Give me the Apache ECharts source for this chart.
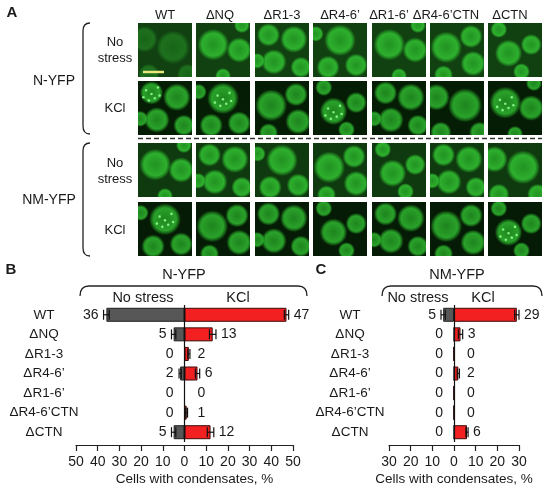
<!DOCTYPE html>
<html><head><meta charset="utf-8">
<script src="https://cdn.jsdelivr.net/npm/echarts@6/dist/echarts.min.js"></script>
<style>html,body{margin:0;padding:0;background:#fff}#c{width:550px;height:493px}</style>
</head><body><div id="c"></div>
<script>
// ---------- data ----------
const categories = ['WT', '\u0394NQ', '\u0394R1-3', '\u0394R4-6\u2019', '\u0394R1-6\u2019', '\u0394R4-6\u2019CTN', '\u0394CTN'];
const nYfpNoStress    = [36, 5, 0, 2, 0, 0, 5];
const nYfpNoStressErr = [1.3, 1, 0, 0.5, 0, 0, 1];
const nYfpKcl         = [47, 13, 2, 6, 0, 1, 12];
const nYfpKclErr      = [1, 1.5, 0.5, 1, 0, 0.4, 1.5];
const nmYfpNoStress    = [5, 0, 0, 0, 0, 0, 0];
const nmYfpNoStressErr = [1, 0, 0, 0, 0, 0, 0];
const nmYfpKcl         = [29, 3, 0, 2, 0, 0, 6];
const nmYfpKclErr      = [1, 1, 0, 0.5, 0, 0, 0.5];
const nTicks = [-50, 50, 10];
const nmTicks = [-30, 30, 10];
const micrographCols = ['WT', '\u0394NQ', '\u0394R1-3', '\u0394R4-6\u2019', '\u0394R1-6\u2019', '\u0394R4-6\u2019CTN', '\u0394CTN'];

const FONT = '"Liberation Sans", Arial, sans-serif';
const TXT = '#1a1a1a';

// ---------- panel A decoration (micrographs approximated) ----------
const tileX = [138, 196, 255, 313, 372, 430, 488];
const tileY = [23, 81, 143, 202];
const tileS = 54;
const headerX = [165, 220, 282, 340, 389, 446, 510];
const patterns = {
  A: [[0.65, 0.45, 0.32], [0.12, 0.3, 0.25], [0.2, 0.95, 0.2], [0.92, 0.95, 0.2]],
  B: [[0.32, 0.4, 0.3], [0.8, 0.5, 0.24], [0.5, 0.98, 0.15], [0.85, 0.04, 0.15]],
  C: [[0.25, 0.22, 0.22], [0.72, 0.3, 0.26], [0.35, 0.72, 0.24], [0.85, 0.82, 0.2], [0.04, 0.7, 0.15]],
  D: [[0.5, 0.32, 0.3], [0.28, 0.82, 0.22], [0.8, 0.78, 0.22], [0.05, 0.2, 0.15]],
  E: [[0.3, 0.45, 0.3], [0.76, 0.25, 0.22], [0.8, 0.75, 0.24], [0.25, 0.96, 0.18]],
  F: [[0.38, 0.56, 0.26], [0.8, 0.4, 0.2], [0.62, 0.9, 0.16], [0.2, 0.12, 0.16]]
};
const tileSpec = [
  ['A', 'B', 'C', 'D', 'B', 'E', 'F'],
  ['C', 'D', 'E', 'F', 'C', 'A', 'B'],
  ['B', 'C', 'D', 'E', 'F', 'C', 'A'],
  ['D', 'E', 'C', 'F', 'C', 'E', 'F']
];
const rowBg = ['#114011', '#051d05', '#0f3a0f', '#051b05'];
const dotted = {'1-0': 1, '1-1': 1, '1-3': 1, '1-6': 1, '3-0': 1, '3-6': 1};

function cellGrad(cx, cy, r, a) {
  return new echarts.graphic.RadialGradient(cx, cy, r, [
    {offset: 0, color: 'rgba(38,165,38,' + (0.9 * a) + ')'},
    {offset: 0.7, color: 'rgba(48,185,48,' + a + ')'},
    {offset: 0.86, color: 'rgba(38,160,38,' + (0.6 * a) + ')'},
    {offset: 1, color: 'rgba(20,90,20,0)'}
  ]);
}

const graphics = [];
tileSpec.forEach((row, ri) => {
  row.forEach((p, ci) => {
    const x = tileX[ci], y = tileY[ri];
    graphics.push({type: 'rect', shape: {x, y, width: tileS, height: tileS}, style: {fill: rowBg[ri]}, silent: true});
    const a = (ri === 0 && ci === 0) ? 0.4 : ((ri % 2) ? 0.85 : 0.92);
    patterns[p].forEach(c => {
      graphics.push({type: 'rect', shape: {x, y, width: tileS, height: tileS}, style: {fill: cellGrad(c[0], c[1], c[2], a)}, silent: true});
    });
    if (dotted[ri + '-' + ci]) {
      const c = patterns[p][0];
      [[-0.1, -0.05], [0.06, 0.1], [0.12, -0.1], [-0.05, 0.14], [0.0, 0.02], [-0.15, 0.08], [0.15, 0.05]].forEach(d => {
        graphics.push({type: 'circle', shape: {cx: x + (c[0] + d[0]) * tileS, cy: y + (c[1] + d[1]) * tileS, r: 1.3}, style: {fill: '#80f080'}, silent: true});
      });
    }
  });
});
// scale bar
graphics.push({type: 'line', shape: {x1: 143, y1: 72, x2: 164, y2: 72}, style: {stroke: '#e8e87c', lineWidth: 2.5}});
// dashed separator
graphics.push({type: 'line', shape: {x1: 138, y1: 138.5, x2: 542, y2: 138.5}, style: {stroke: '#333', lineWidth: 1.5, lineDash: [5, 3]}});

function text(str, x, y, opts) {
  opts = opts || {};
  return {type: 'text', x, y, silent: true, style: {
    text: str, font: (opts.bold ? 'bold ' : '') + (opts.size || 13) + 'px ' + FONT, fill: TXT,
    align: opts.align || 'center', verticalAlign: 'middle', textAlign: opts.align || 'center', textVerticalAlign: 'middle'
  }};
}
micrographCols.forEach((c, i) => graphics.push(text(c, headerX[i], 15, {size: 13})));
graphics.push(text('A', 12, 13, {bold: true, size: 15}));
graphics.push(text('B', 11, 270, {bold: true, size: 15}));
graphics.push(text('C', 321, 270, {bold: true, size: 15}));
graphics.push(text('No', 115, 42), text('stress', 115, 58), text('KCl', 115, 108));
graphics.push(text('No', 115, 163), text('stress', 115, 179), text('KCl', 115, 230));
graphics.push(text('N-YFP', 54, 81, {size: 14}), text('NM-YFP', 49, 200, {size: 14}));
graphics.push(text('N-YFP', 184, 275, {size: 14.5}), text('NM-YFP', 457, 275, {size: 14.5}));
graphics.push(text('No stress', 143, 298, {size: 14.5}), text('KCl', 238, 298, {size: 14.5}));
graphics.push(text('No stress', 418, 298, {size: 14.5}), text('KCl', 483, 298, {size: 14.5}));

const BR = {stroke: '#222', lineWidth: 1.3, fill: null};
function vBrace(x, y1, y2) {
  return [
    {type: 'bezierCurve', shape: {x1: x + 7, y1: y1, cpx1: x, cpy1: y1, x2: x, y2: y1 + 8}, style: BR},
    {type: 'line', shape: {x1: x, y1: y1 + 8, x2: x, y2: y2 - 8}, style: BR},
    {type: 'bezierCurve', shape: {x1: x, y1: y2 - 8, cpx1: x, cpy1: y2, x2: x + 7, y2: y2}, style: BR}
  ];
}
function hBrace(x1, x2, y, yEnd) {
  return [
    {type: 'bezierCurve', shape: {x1: x1, y1: yEnd, cpx1: x1, cpy1: y, x2: x1 + 9, y2: y}, style: BR},
    {type: 'line', shape: {x1: x1 + 9, y1: y, x2: x2 - 9, y2: y}, style: BR},
    {type: 'bezierCurve', shape: {x1: x2 - 9, y1: y, cpx1: x2, cpy1: y, x2: x2, y2: yEnd}, style: BR}
  ];
}
graphics.push(...vBrace(83, 23, 134), ...vBrace(83, 143, 256));
graphics.push(...hBrace(80, 307, 286, 296), ...hBrace(382, 542, 286, 296));

// ---------- charts B and C ----------
function errSeries(gi, vals, errs, dir) {
  return {
    type: 'custom', xAxisIndex: gi, yAxisIndex: gi, clip: false, z: 5, silent: true,
    data: vals.map((v, i) => [i, v, errs[i]]),
    encode: {x: 1, y: 0},
    renderItem: (params, api) => {
      const cat = api.value(0), v = api.value(1), e = api.value(2);
      if (!(e > 0)) return null;
      const a = api.coord([dir * (v - e), cat]);
      const b = api.coord([dir * (v + e), cat]);
      const h = 5, st = {stroke: '#111', lineWidth: 1.2};
      return {type: 'group', children: [
        {type: 'line', shape: {x1: a[0], y1: a[1], x2: b[0], y2: b[1]}, style: st},
        {type: 'line', shape: {x1: a[0], y1: a[1] - h, x2: a[0], y2: a[1] + h}, style: st},
        {type: 'line', shape: {x1: b[0], y1: b[1] - h, x2: b[0], y2: b[1] + h}, style: st}
      ]};
    }
  };
}
function labelSeries(gi, vals, errs, dir) {
  return {
    type: 'custom', xAxisIndex: gi, yAxisIndex: gi, clip: false, z: 6, silent: true,
    data: vals.map((v, i) => [i, v, errs[i]]),
    encode: {x: 1, y: 0},
    renderItem: (params, api) => {
      const cat = api.value(0), v = api.value(1), e = api.value(2);
      const z = api.coord([0, cat]);
      const end = api.coord([dir * (v + e), cat]);
      const x = dir > 0 ? Math.max(end[0] + 5, z[0] + 13) : Math.min(end[0] - 5, z[0] - 11);
      const al = dir > 0 ? 'left' : 'right';
      return {type: 'text', x: x, y: z[1], style: {
        text: String(v), font: '14px ' + FONT, fill: TXT,
        align: al, verticalAlign: 'middle', textAlign: al, textVerticalAlign: 'middle'
      }};
    }
  };
}
function barSeries(gi, vals, dir, color, border, withZero) {
  const s = {
    type: 'bar', xAxisIndex: gi, yAxisIndex: gi, barWidth: 14, barGap: '-100%', silent: true,
    data: vals.map(v => dir * v),
    itemStyle: {color: color, borderColor: border, borderWidth: 1}
  };
  if (withZero) {
    s.markLine = {silent: true, symbol: 'none', label: {show: false},
      lineStyle: {color: '#111', width: 1.2, type: 'solid'}, data: [{xAxis: 0}]};
  }
  return s;
}
function xAxisFor(gi, ticks, namePad) {
  return {
    type: 'value', gridIndex: gi, min: ticks[0], max: ticks[1], interval: ticks[2], offset: 3,
    axisLine: {show: true, lineStyle: {color: '#222', width: 1.2}},
    axisTick: {show: true, length: 6, lineStyle: {color: '#222', width: 1.2}},
    splitLine: {show: false},
    axisLabel: {formatter: v => String(Math.abs(v)), color: TXT, fontSize: 14, fontFamily: FONT, margin: 10},
    name: 'Cells with condensates, %', nameLocation: 'middle', nameGap: 27,
    nameTextStyle: {color: TXT, fontSize: 13.5, fontFamily: FONT, padding: [0, 0, 0, namePad]}
  };
}
function yAxisFor(gi, margin) {
  return {
    type: 'category', gridIndex: gi, data: categories, inverse: true,
    axisLine: {show: false, onZero: false}, axisTick: {show: false}, splitLine: {show: false},
    axisLabel: {color: TXT, fontSize: 13.5, fontFamily: FONT, align: 'center', margin: margin}
  };
}

const option = {
  animation: false,
  backgroundColor: '#fff',
  grid: [
    {left: 76, top: 305, width: 217, height: 137},
    {left: 389, top: 305, width: 130, height: 137}
  ],
  xAxis: [xAxisFor(0, nTicks, 20), xAxisFor(1, nmTicks, 0)],
  yAxis: [yAxisFor(0, 32), yAxisFor(1, 39)],
  series: [
    barSeries(0, nYfpNoStress, -1, '#575757', '#1e1e1e', true),
    barSeries(0, nYfpKcl, 1, '#f22020', '#3a0a0a', false),
    errSeries(0, nYfpNoStress, nYfpNoStressErr, -1),
    errSeries(0, nYfpKcl, nYfpKclErr, 1),
    labelSeries(0, nYfpNoStress, nYfpNoStressErr, -1),
    labelSeries(0, nYfpKcl, nYfpKclErr, 1),
    barSeries(1, nmYfpNoStress, -1, '#575757', '#1e1e1e', true),
    barSeries(1, nmYfpKcl, 1, '#f22020', '#3a0a0a', false),
    errSeries(1, nmYfpNoStress, nmYfpNoStressErr, -1),
    errSeries(1, nmYfpKcl, nmYfpKclErr, 1),
    labelSeries(1, nmYfpNoStress, nmYfpNoStressErr, -1),
    labelSeries(1, nmYfpKcl, nmYfpKclErr, 1)
  ],
  graphic: {elements: graphics}
};
const chart = echarts.init(document.getElementById('c'));
chart.setOption(option);
</script>
</body></html>
